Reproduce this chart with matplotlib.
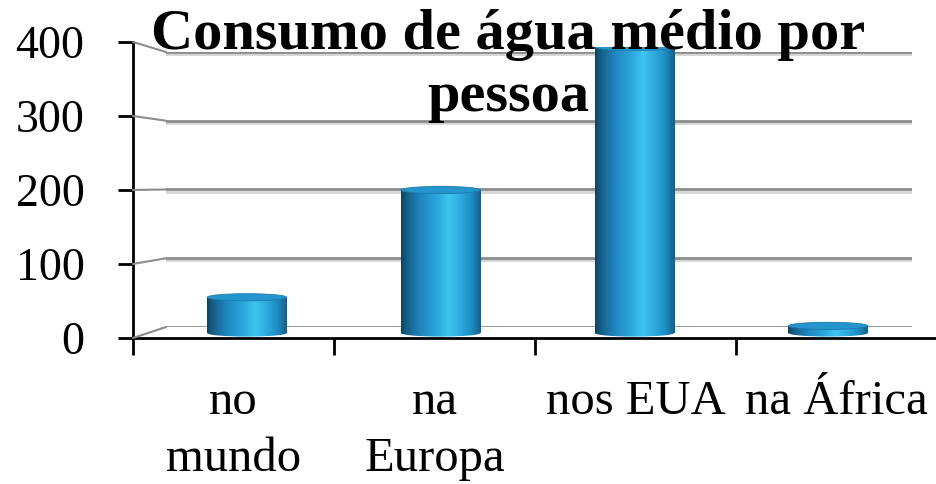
import numpy as np
import matplotlib
matplotlib.use("Agg")
import matplotlib.pyplot as plt
import matplotlib.patheffects as pe
from matplotlib.colors import LinearSegmentedColormap
from matplotlib.patches import Ellipse, ConnectionPatch

# dados do gráfico
categorias = ["no\nmundo", "na\nEuropa", "nos EUA", "na África"]
consumo = [50, 200, 400, 10]
eixo_y = [0, 100, 200, 300, 400]
titulo = "Consumo de água médio por\npessoa"

fonte = "Liberation Serif"
cinza = "#8c8c8c"

# gradiente do cilindro (escuro nas bordas, claro perto do centro)
cores_cilindro = LinearSegmentedColormap.from_list("cilindro", [
    (0.00, "#0d4563"),
    (0.08, "#14618b"),
    (0.25, "#1f87bf"),
    (0.45, "#2aa6dc"),
    (0.60, "#3ec5ef"),
    (0.72, "#2fb0e2"),
    (0.88, "#1f8cc3"),
    (1.00, "#145f88"),
])

fig = plt.figure(figsize=(9.36, 4.84), dpi=100)

# parede do fundo com as linhas de grade
ax_fundo = fig.add_axes([0.1774, 0.3244, 0.797, 0.5682])
ax_fundo.set_xlim(0, 1)
ax_fundo.set_ylim(0, 400)
ax_fundo.axis("off")
for v in eixo_y:
    ax_fundo.axhline(v, color=cinza, lw=2,
                     path_effects=[pe.SimpleLineShadow(offset=(0, -1.5), shadow_color="#d4d4d4", alpha=1),
                                   pe.Normal()])

# eixo da frente
ax_frente = fig.add_axes([0.1421, 0.3017, 0.859, 0.6116])
ax_frente.patch.set_alpha(0)
ax_frente.set_xlim(0, 4)
ax_frente.set_ylim(0, 400)
for lado in ["top", "right"]:
    ax_frente.spines[lado].set_visible(False)
for lado in ["left", "bottom"]:
    ax_frente.spines[lado].set_linewidth(2)
ax_frente.set_yticks(eixo_y)
ax_frente.set_yticklabels([str(v) for v in eixo_y], fontsize=33, family=fonte)
ax_frente.tick_params(axis="y", length=11, width=2, pad=24)
ax_frente.set_xticks(range(5))
ax_frente.set_xticklabels([""] * 5)
ax_frente.set_xticks(np.arange(4) + 0.5, minor=True)
ax_frente.set_xticklabels(categorias, minor=True, fontsize=35, family=fonte, linespacing=1.4)
ax_frente.tick_params(axis="x", which="major", length=12, width=2)
ax_frente.tick_params(axis="x", which="minor", length=0, pad=30)

# linhas inclinadas ligando a frente ao fundo
for v in eixo_y:
    con = ConnectionPatch(xyA=(0, v), coordsA=ax_frente.transData,
                          xyB=(0, v), coordsB=ax_fundo.transData,
                          color=cinza, lw=1.5)
    fig.add_artist(con)

# barras cilíndricas
ax_barras = fig.add_axes([0.1603, 0.2824, 0.828, 0.6206])
ax_barras.patch.set_alpha(0)
ax_barras.axis("off")
profundidade = 10
gradiente = np.linspace(0, 1, 256).reshape(1, -1)
barras = ax_barras.bar(range(len(consumo)), consumo, width=0.41, color="none")
for rect in barras:
    x0 = rect.get_x()
    w = rect.get_width()
    h = rect.get_height()
    cx = x0 + w / 2
    corpo = ax_barras.imshow(gradiente, cmap=cores_cilindro, aspect="auto",
                             extent=[x0, x0 + w, 0, h], zorder=2)
    corpo.set_clip_path(rect)
    base = Ellipse((cx, 0), w, profundidade, facecolor="none", edgecolor="none")
    ax_barras.add_patch(base)
    img_base = ax_barras.imshow(gradiente, cmap=cores_cilindro, aspect="auto",
                                extent=[x0, x0 + w, -profundidade / 2, profundidade / 2], zorder=2)
    img_base.set_clip_path(base)
    topo = Ellipse((cx, h), w, profundidade, facecolor="#2496cd", edgecolor="#1c7aab", lw=0.6, zorder=3)
    ax_barras.add_patch(topo)
ax_barras.set_xlim(-0.5, 3.5)
ax_barras.set_ylim(-20, 400)

fig.text(0.543, 0.982, titulo, ha="center", va="top", fontsize=42, fontweight="bold",
         family=fonte, linespacing=1.25, zorder=10)

fig.savefig("out.png", dpi=100)
